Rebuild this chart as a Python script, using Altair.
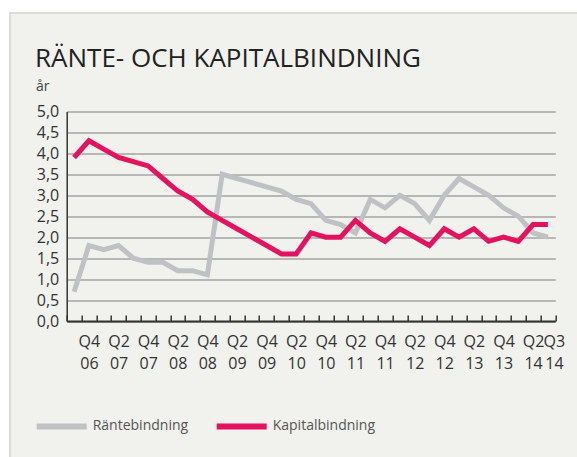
import json
import altair as alt
import pandas as pd

quarters = ["Q3 06", "Q4 06", "Q1 07", "Q2 07", "Q3 07", "Q4 07", "Q1 08", "Q2 08", "Q3 08", "Q4 08",
            "Q1 09", "Q2 09", "Q3 09", "Q4 09", "Q1 10", "Q2 10", "Q3 10", "Q4 10",
            "Q1 11", "Q2 11", "Q3 11", "Q4 11", "Q1 12", "Q2 12", "Q3 12", "Q4 12",
            "Q1 13", "Q2 13", "Q3 13", "Q4 13", "Q1 14", "Q2 14", "Q3 14"]
rantebindning = [0.7, 1.8, 1.7, 1.8, 1.5, 1.4, 1.4, 1.2, 1.2, 1.1,
                 3.5, 3.4, 3.3, 3.2, 3.1, 2.9, 2.8, 2.4,
                 2.3, 2.1, 2.9, 2.7, 3.0, 2.8, 2.4, 3.0,
                 3.4, 3.2, 3.0, 2.7, 2.5, 2.1, 2.0]
kapitalbindning = [3.9, 4.3, 4.1, 3.9, 3.8, 3.7, 3.4, 3.1, 2.9, 2.6,
                   2.4, 2.2, 2.0, 1.8, 1.6, 1.6, 2.1, 2.0,
                   2.0, 2.4, 2.1, 1.9, 2.2, 2.0, 1.8, 2.2,
                   2.0, 2.2, 1.9, 2.0, 1.9, 2.3, 2.3]
x_labels = ["Q4 06", "Q2 07", "Q4 07", "Q2 08", "Q4 08", "Q2 09", "Q4 09", "Q2 10", "Q4 10",
            "Q2 11", "Q4 11", "Q2 12", "Q4 12", "Q2 13", "Q4 13", "Q2 14", "Q3 14"]
y_ticks = [0.0, 0.5, 1.0, 1.5, 2.0, 2.5, 3.0, 3.5, 4.0, 4.5, 5.0]
series_names = ["Räntebindning", "Kapitalbindning"]
series_colors = ["#c0c1c5", "#e3135f"]
title_text = "RÄNTE- OCH KAPITALBINDNING"
unit_text = "år"

FONT = "Open Sans"
W, H = 488.6, 209.6
PAD_L, PAD_T = 66.7, 111.4

rows = []
for name, vals in zip(series_names, [rantebindning, kapitalbindning]):
    for q, v in zip(quarters, vals):
        rows.append({"kvartal": q, "serie": name, "varde": v})
df = pd.DataFrame(rows)

label_expr = ("indexof(" + json.dumps(x_labels) + ", datum.value) >= 0 ? "
              "split(datum.value, ' ') : ''")

lines = alt.Chart(df).mark_line(strokeWidth=5, strokeJoin="miter").encode(
    x=alt.X("kvartal:N", sort=quarters, bandPosition=0.5,
            scale=alt.Scale(type="band", domain=quarters, paddingInner=0, paddingOuter=0),
            axis=alt.Axis(title=None, tickBand="extent", tickSize=alt.ExprRef(expr="-6"),
                          tickColor="#333333", tickWidth=1.5, domainColor="#333333",
                          domainWidth=2, labelExpr=label_expr, labelAngle=0,
                          labelOverlap=False, labelBound=False, labelFlush=False,
                          labelPadding=18, labelLineHeight=22, labelFontSize=16,
                          labelOffset={"condition": {"test": "datum.value === 'Q3 14'", "value": 6}, "value": 0},
                          grid=False)),
    y=alt.Y("varde:Q", scale=alt.Scale(domain=[0, 5], nice=False),
            axis=alt.Axis(title=None, values=y_ticks, ticks=False, grid=True,
                          gridColor="#a3a3a3", gridWidth=1.5, domainColor="#333333",
                          domainWidth=1.5, labelPadding=8, labelFontSize=16,
                          labelExpr="replace(format(datum.value, '.1f'), '.', ',')")),
    color=alt.Color("serie:N", scale=alt.Scale(domain=series_names, range=series_colors),
                    legend=alt.Legend(title=None, orient="none", legendX=-33, legendY=287,
                                      direction="horizontal", symbolType="stroke",
                                      symbolSize=2500, symbolStrokeWidth=6,
                                      labelFontSize=14, labelColor="#555555",
                                      labelOffset=3, columnPadding=16, labelFont=FONT)),
)

one = pd.DataFrame({"t": [title_text], "u": [unit_text]})
top_white = alt.Chart(one).mark_rect(color="white").encode(
    x=alt.value(-PAD_L - 2), x2=alt.value(W + 40), y=alt.value(-PAD_T - 2), y2=alt.value(13 - PAD_T))
left_white = alt.Chart(one).mark_rect(color="white").encode(
    x=alt.value(-PAD_L - 2), x2=alt.value(10 - PAD_L), y=alt.value(-PAD_T - 2), y2=alt.value(H + 200))
border = alt.Chart(one).mark_rect(fill=None, stroke="#dcdcdc", strokeWidth=2).encode(
    x=alt.value(10 - PAD_L), x2=alt.value(W + 80), y=alt.value(13 - PAD_T), y2=alt.value(H + 200))
title = alt.Chart(one).mark_text(align="left", baseline="alphabetic", font=FONT, fontSize=26,
                                 color="#222222").encode(
    x=alt.value(35 - PAD_L), y=alt.value(67.3 - PAD_T), text="t:N")
unit = alt.Chart(one).mark_text(align="left", baseline="alphabetic", font=FONT, fontSize=14,
                                color="#444444").encode(
    x=alt.value(36 - PAD_L), y=alt.value(91 - PAD_T), text="u:N")

chart = alt.layer(lines, top_white, left_white, border, title, unit).properties(
    width=W, height=H,
    autosize=alt.AutoSizeParams(type="none"),
    padding={"left": PAD_L, "top": PAD_T, "right": 577 - PAD_L - W, "bottom": 457 - PAD_T - H},
    background="#f1f1ed",
).configure_view(stroke=None).configure_axis(
    labelFont=FONT, labelColor="#333333"
)

chart.save("out.html", embed_options={"renderer": "svg", "actions": False})
